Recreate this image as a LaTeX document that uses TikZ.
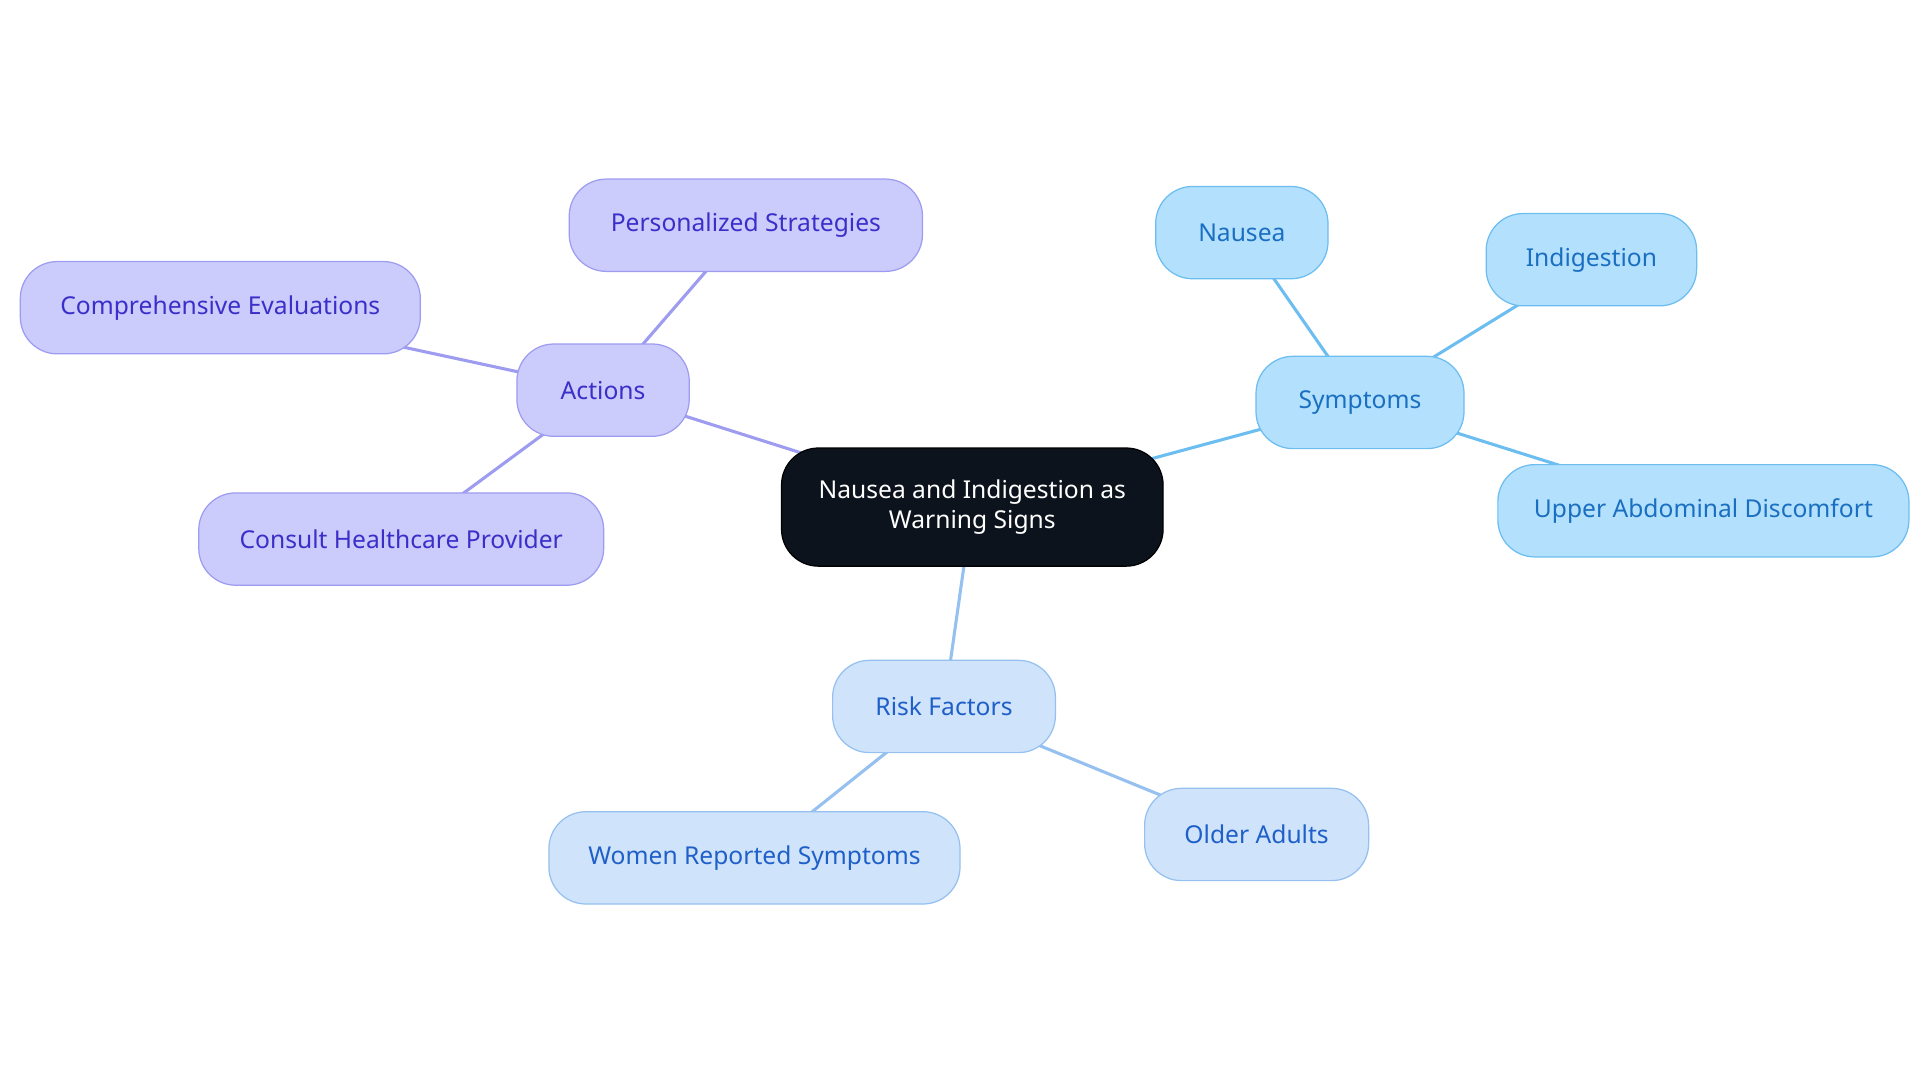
\documentclass[tikz,border=0pt]{standalone}
\usepackage{fontspec}
\setmainfont{Noto Sans}
\usetikzlibrary{backgrounds}
\definecolor{cfill}{HTML}{0C131C}
\definecolor{afill}{HTML}{CBCBFC}\definecolor{aline}{HTML}{9D9CF0}\definecolor{atext}{HTML}{3A2FC8}
\definecolor{sfill}{HTML}{B3E0FD}\definecolor{sline}{HTML}{6CBDF0}\definecolor{stext}{HTML}{1A6FC0}
\definecolor{rfill}{HTML}{CFE3FB}\definecolor{rline}{HTML}{95C0EF}\definecolor{rtext}{HTML}{1F5FC8}
\tikzset{
 box/.style={rounded corners=30pt,line width=1pt,minimum height=75pt,inner sep=0pt,font=\fontsize{20}{24}\selectfont,align=center},
 abox/.style={box,fill=afill,draw=aline,text=atext},
 sbox/.style={box,fill=sfill,draw=sline,text=stext},
 rbox/.style={box,fill=rfill,draw=rline,text=rtext},
 ae/.style={draw=aline,line width=2.5pt},
 se/.style={draw=sline,line width=2.5pt},
 re/.style={draw=rline,line width=2.5pt},
}
\begin{document}
\begin{tikzpicture}[x=1pt,y=-1pt]
\useasboundingbox (0,0) rectangle (1560,880);
\node[box,fill=cfill,draw=black,text=white,minimum width=310pt,minimum height=96pt] (c) at (790,412) {Nausea and Indigestion as\\Warning Signs};
\node[abox,minimum width=140pt] (a) at (490,317) {Actions};
\node[abox,minimum width=287pt] (a1) at (606,183) {Personalized Strategies};
\node[abox,minimum width=325pt] (a2) at (179,250) {Comprehensive Evaluations};
\node[abox,minimum width=329pt] (a3) at (326,438) {Consult Healthcare Provider};
\node[sbox,minimum width=169pt] (s) at (1105,327) {Symptoms};
\node[sbox,minimum width=140pt] (s1) at (1009,189) {Nausea};
\node[sbox,minimum width=171pt] (s2) at (1293,211) {Indigestion};
\node[sbox,minimum width=334pt] (s3) at (1384,415) {Upper Abdominal Discomfort};
\node[rbox,minimum width=181pt] (r) at (767,574) {Risk Factors};
\node[rbox,minimum width=334pt] (r1) at (613,697) {Women Reported Symptoms};
\node[rbox,minimum width=182pt] (r2) at (1021,678) {Older Adults};
\begin{pgfonlayer}{background}
\draw[ae] (c.center)--(a.center) (a.center)--(a1.center) (a.center)--(a2.center) (a.center)--(a3.center);
\draw[se] (c.center)--(s.center) (s.center)--(s1.center) (s.center)--(s2.center) (s.center)--(s3.center);
\draw[re] (c.center)--(r.center) (r.center)--(r1.center) (r.center)--(r2.center);
\end{pgfonlayer}
\end{tikzpicture}
\end{document}
